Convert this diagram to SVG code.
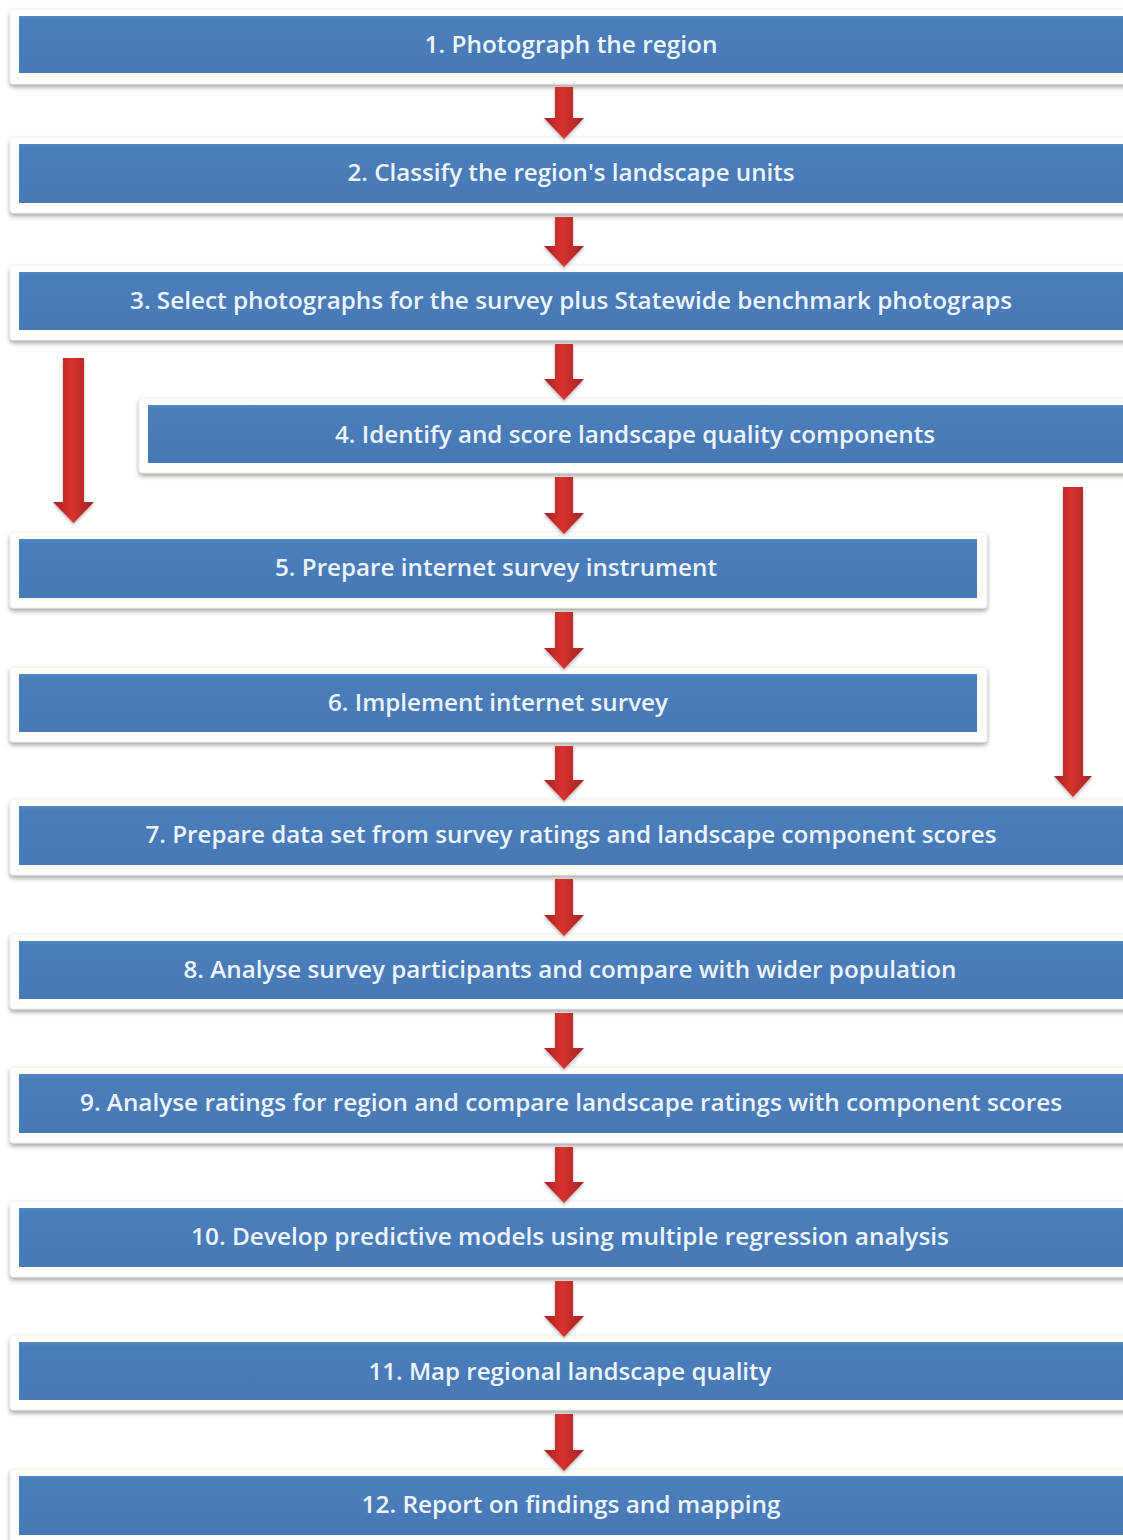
<svg xmlns="http://www.w3.org/2000/svg" width="1123" height="1540" viewBox="0 0 1123 1540">
<defs>
<filter id="sh" x="-5%" y="-30%" width="110%" height="170%">
<feDropShadow dx="0" dy="3" stdDeviation="2" flood-color="#8a8680" flood-opacity="0.7"/>
</filter>
<filter id="ash" x="-50%" y="-10%" width="200%" height="130%">
<feDropShadow dx="0" dy="2" stdDeviation="1.5" flood-color="#7a6a6a" flood-opacity="0.5"/>
</filter>
<linearGradient id="ag" x1="0" y1="0" x2="1" y2="0">
<stop offset="0" stop-color="#a82222"/>
<stop offset="0.45" stop-color="#d8322f"/>
<stop offset="1" stop-color="#a52424"/>
</linearGradient>
<linearGradient id="bg" x1="0" y1="0" x2="0" y2="1">
<stop offset="0" stop-color="#5288c4"/>
<stop offset="0.08" stop-color="#4a7ebb"/>
<stop offset="1" stop-color="#4779b5"/>
</linearGradient>
</defs>
<style>
.card{fill:#fefefb;stroke:#eef0ee;stroke-width:1;filter:url(#sh)}
.bar{fill:url(#bg)}
.t{font-family:"Open Sans","Liberation Sans",sans-serif;font-weight:600;font-size:23px;fill:#eef4fb;text-anchor:middle}
.ar{fill:url(#ag);filter:url(#ash)}
</style>
<rect width="1123" height="1540" fill="#ffffff"/>
<g id="n1"><rect class="card" x="10" y="9" width="1125" height="75" rx="3"/><rect class="bar" x="19" y="16" width="1104" height="57"/><text class="t" x="571" y="53" textLength="293" lengthAdjust="spacingAndGlyphs">1. Photograph the region</text></g>
<g id="n2"><rect class="card" x="10" y="137" width="1125" height="76" rx="3"/><rect class="bar" x="19" y="144" width="1104" height="59"/><text class="t" x="571" y="181" textLength="447" lengthAdjust="spacingAndGlyphs">2. Classify the region's landscape units</text></g>
<g id="n3"><rect class="card" x="10" y="265" width="1125" height="75" rx="3"/><rect class="bar" x="19" y="272" width="1104" height="58"/><text class="t" x="571" y="309" textLength="882" lengthAdjust="spacingAndGlyphs">3. Select photographs for the survey plus Statewide benchmark photograps</text></g>
<g id="n4"><rect class="card" x="139" y="398" width="996" height="75" rx="3"/><rect class="bar" x="148" y="405" width="975" height="58"/><text class="t" x="635" y="443" textLength="600" lengthAdjust="spacingAndGlyphs">4. Identify and score landscape quality components</text></g>
<g id="n5"><rect class="card" x="10" y="532" width="977" height="76" rx="3"/><rect class="bar" x="19" y="539" width="958" height="59"/><text class="t" x="496" y="576" textLength="442" lengthAdjust="spacingAndGlyphs">5. Prepare internet survey instrument</text></g>
<g id="n6"><rect class="card" x="10" y="667" width="977" height="75" rx="3"/><rect class="bar" x="19" y="674" width="958" height="58"/><text class="t" x="498" y="711" textLength="340" lengthAdjust="spacingAndGlyphs">6. Implement internet survey</text></g>
<g id="n7"><rect class="card" x="10" y="799" width="1125" height="76" rx="3"/><rect class="bar" x="19" y="806" width="1104" height="59"/><text class="t" x="571" y="843" textLength="851" lengthAdjust="spacingAndGlyphs">7. Prepare data set from survey ratings and landscape component scores</text></g>
<g id="n8"><rect class="card" x="10" y="934" width="1125" height="75" rx="3"/><rect class="bar" x="19" y="941" width="1104" height="58"/><text class="t" x="570" y="978" textLength="773" lengthAdjust="spacingAndGlyphs">8. Analyse survey participants and compare with wider population</text></g>
<g id="n9"><rect class="card" x="10" y="1067" width="1125" height="76" rx="3"/><rect class="bar" x="19" y="1074" width="1104" height="59"/><text class="t" x="571" y="1111" textLength="982" lengthAdjust="spacingAndGlyphs">9. Analyse ratings for region and compare landscape ratings with component scores</text></g>
<g id="n10"><rect class="card" x="10" y="1201" width="1125" height="76" rx="3"/><rect class="bar" x="19" y="1208" width="1104" height="59"/><text class="t" x="570" y="1245" textLength="758" lengthAdjust="spacingAndGlyphs">10. Develop predictive models using multiple regression analysis</text></g>
<g id="n11"><rect class="card" x="10" y="1335" width="1125" height="75" rx="3"/><rect class="bar" x="19" y="1342" width="1104" height="58"/><text class="t" x="570" y="1380" textLength="403" lengthAdjust="spacingAndGlyphs">11. Map regional landscape quality</text></g>
<g id="n12"><rect class="card" x="10" y="1469" width="1125" height="76" rx="3"/><rect class="bar" x="19" y="1476" width="1104" height="59"/><text class="t" x="571" y="1513" textLength="419" lengthAdjust="spacingAndGlyphs">12. Report on findings and mapping</text></g>
<g id="connectors">
<polygon class="ar" points="555,87 573,87 573,118 584,118 564,139 544,118 555,118"/>
<polygon class="ar" points="555,217 573,217 573,246 584,246 564,267 544,246 555,246"/>
<polygon class="ar" points="555,344 573,344 573,379 584,379 564,400 544,379 555,379"/>
<polygon class="ar" points="555,477 573,477 573,513 584,513 564,534 544,513 555,513"/>
<polygon class="ar" points="555,612 573,612 573,648 584,648 564,669 544,648 555,648"/>
<polygon class="ar" points="555,746 573,746 573,780 584,780 564,801 544,780 555,780"/>
<polygon class="ar" points="555,879 573,879 573,915 584,915 564,936 544,915 555,915"/>
<polygon class="ar" points="555,1013 573,1013 573,1048 584,1048 564,1069 544,1048 555,1048"/>
<polygon class="ar" points="555,1147 573,1147 573,1182 584,1182 564,1203 544,1182 555,1182"/>
<polygon class="ar" points="555,1281 573,1281 573,1316 584,1316 564,1337 544,1316 555,1316"/>
<polygon class="ar" points="555,1414 573,1414 573,1450 584,1450 564,1471 544,1450 555,1450"/>
<polygon class="ar" points="63,358 84,358 84,502 94,502 73.5,523 53,502 63,502"/>
<polygon class="ar" points="1063,487 1083,487 1083,776 1092,776 1073,797 1054,776 1063,776"/>
</g>
</svg>
